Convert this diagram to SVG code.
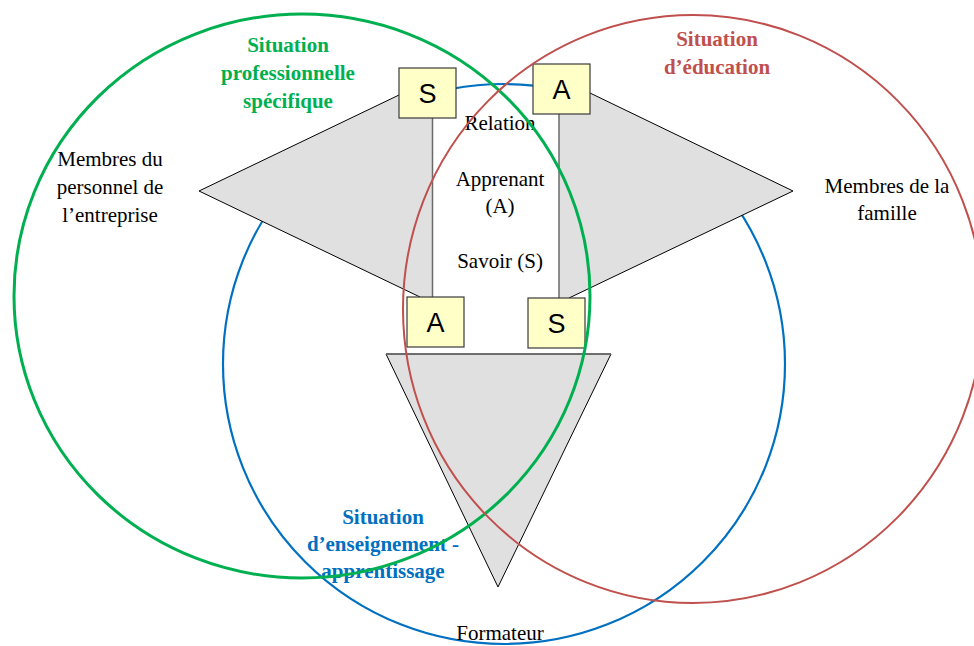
<svg xmlns="http://www.w3.org/2000/svg" width="974" height="646" viewBox="0 0 974 646">
<style>
.t{font-family:"Liberation Serif","Times New Roman",serif;font-size:21px;fill:#000;text-anchor:middle}
.b{font-weight:bold}
.box{fill:#FFFFC8;stroke:#3a3a3a;stroke-width:1.2}
.bl{font-family:"Liberation Sans",Arial,sans-serif;font-size:27px;fill:#000;text-anchor:middle}
.tri{fill:#E0E0E0;stroke:none}
.edge{fill:none;stroke:#000;stroke-width:1}
.vl{stroke:#6a6a6a;stroke-width:1.5}
</style>
<rect width="974" height="646" fill="#fff"/>
<g id="circle-enseignement"><ellipse cx="504" cy="364" rx="281" ry="280" fill="none" stroke="#0070C0" stroke-width="2.2"/></g>
<g id="triangle-entreprise">
<polygon class="tri" points="399,95 199,191 420,297 432,297 432,118"/>
<polyline class="edge" points="399,95 199,191 420,297"/>
</g>
<g id="triangle-famille">
<polygon class="tri" points="590,93 793,191 569,298 559,298 559,114"/>
<polyline class="edge" points="590,93 793,191 569,298"/>
</g>
<g id="connectors">
<line class="vl" x1="432.5" y1="118" x2="432.5" y2="297"/>
<line class="vl" x1="559" y1="114" x2="559" y2="298"/>
</g>
<g id="triangle-formateur">
<polygon points="386,354 611,354 498,587" fill="#E0E0E0" stroke="#000" stroke-width="1"/>
<line x1="386" y1="354" x2="611" y2="354" stroke="#6a6a6a" stroke-width="1.5"/>
</g>
<g id="box-S-top"><rect class="box" x="399" y="68" width="57" height="50"/><text class="bl" x="427.5" y="103">S</text></g>
<g id="box-A-top"><rect class="box" x="533" y="64" width="57" height="50"/><text class="bl" x="561.5" y="99">A</text></g>
<g id="box-A-bottom"><rect class="box" x="407" y="297" width="57" height="50"/><text class="bl" x="435.5" y="332">A</text></g>
<g id="box-S-bottom"><rect class="box" x="528" y="298" width="57" height="50"/><text class="bl" x="556.5" y="333">S</text></g>
<g id="labels-center">
<text class="t" x="500" y="130">Relation</text>
<text class="t" x="500" y="186">Apprenant</text>
<text class="t" x="500" y="213">(A)</text>
<text class="t" x="500" y="268">Savoir (S)</text>
<text class="t" x="500" y="640">Formateur</text>
</g>
<g id="label-entreprise">
<text class="t" x="110" y="166">Membres du</text>
<text class="t" x="110" y="194">personnel de</text>
<text class="t" x="110" y="222">l’entreprise</text>
</g>
<g id="label-famille">
<text class="t" x="887" y="193">Membres de la</text>
<text class="t" x="887" y="220">famille</text>
</g>
<g id="label-enseignement">
<text class="t b" style="fill:#0070C0" x="383" y="524">Situation</text>
<text class="t b" style="fill:#0070C0" x="383" y="551">d’enseignement -</text>
<text class="t b" style="fill:#0070C0" x="383" y="578">apprentissage</text>
</g>
<g id="circle-professionnelle"><ellipse cx="302" cy="296" rx="288" ry="282" fill="none" stroke="#00B050" stroke-width="3"/></g>
<g id="circle-education"><ellipse cx="693" cy="309" rx="290" ry="294" fill="none" stroke="#C0504D" stroke-width="2"/></g>
<g id="label-professionnelle">
<text class="t b" style="fill:#00B050" x="288" y="52">Situation</text>
<text class="t b" style="fill:#00B050" x="288" y="80">professionnelle</text>
<text class="t b" style="fill:#00B050" x="288" y="108">spécifique</text>
</g>
<g id="label-education">
<text class="t b" style="fill:#C0504D" x="717" y="46">Situation</text>
<text class="t b" style="fill:#C0504D" x="717" y="74">d’éducation</text>
</g>
</svg>
